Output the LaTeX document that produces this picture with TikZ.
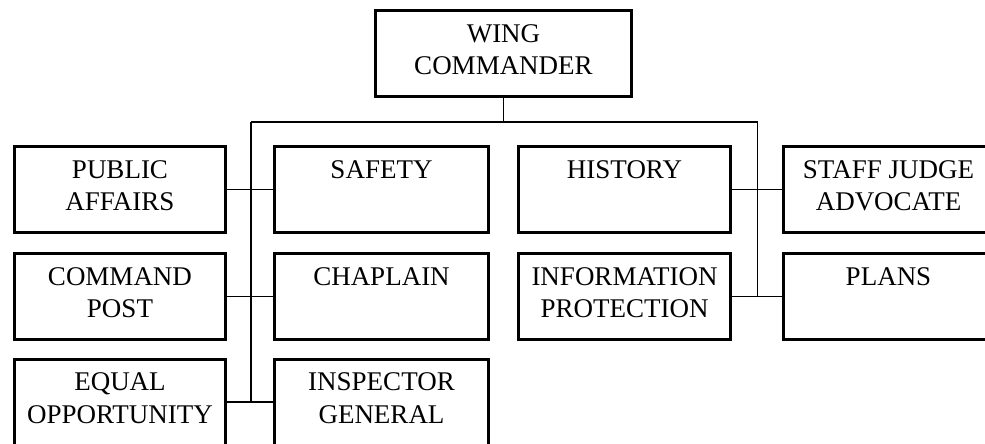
\documentclass[tikz,border=0pt]{standalone}
\usepackage{fontspec}
\setmainfont{Liberation Serif}
\newcommand{\bxtext}[3]{\parbox[t][86pt][t]{#1}{\centering\vspace*{9pt}\strut#2\\\strut#3}}
\begin{document}
\begin{tikzpicture}[x=1pt,y=-1pt,
  orgbox/.style={draw=black, line width=3pt, inner sep=0pt, outer sep=0pt, anchor=north west,
    font=\fontsize{27}{32.5}\selectfont},
  conn/.style={draw=black, line width=1.3pt}]
\useasboundingbox (0,0) rectangle (985,444);
\clip (0,0) rectangle (985,444);
% top
\node[orgbox] (wc) at (375.5,10.5) {\bxtext{256pt}{WING}{COMMANDER}};
% column A
\node[orgbox] (pa) at (14.5,146.5) {\bxtext{211pt}{PUBLIC}{AFFAIRS}};
\node[orgbox] (cp) at (14.5,253.5) {\bxtext{211pt}{COMMAND}{POST}};
\node[orgbox] (eo) at (14.5,359) {\bxtext{211pt}{EQUAL}{OPPORTUNITY}};
% column B
\node[orgbox] (sf) at (274.5,146.5) {\bxtext{214pt}{SAFETY}{}};
\node[orgbox] (ch) at (274.5,253.5) {\bxtext{214pt}{CHAPLAIN}{}};
\node[orgbox] (ig) at (274.5,359) {\bxtext{214pt}{INSPECTOR}{GENERAL}};
% column C
\node[orgbox] (hi) at (518.5,146.5) {\bxtext{212pt}{HISTORY}{}};
\node[orgbox] (ip) at (518.5,253.5) {\bxtext{212pt}{INFORMATION}{PROTECTION}};
% column D
\node[orgbox] (sj) at (783.5,146.5) {\bxtext{210pt}{STAFF JUDGE}{ADVOCATE}};
\node[orgbox] (pl) at (783.5,253.5) {\bxtext{210pt}{PLANS}{}};
% bus
\coordinate (busL) at (251,122);
\coordinate (busR) at (757.5,122);
\coordinate (busM) at (wc.south |- busL);
\draw[conn] (wc.south) -- (busM);
\draw[conn] (busL) -- (busR);
\draw[conn] (busL) -- (busL |- eo.east);
\draw[conn] (busR) -- (busR |- ip.east);
% row connectors
\draw[conn] (pa.east) -- (sf.west);
\draw[conn] (cp.east) -- (ch.west);
\draw[conn] (eo.east) -- (ig.west);
\draw[conn] (hi.east) -- (sj.west);
\draw[conn] (ip.east) -- (pl.west);
\end{tikzpicture}
\end{document}
